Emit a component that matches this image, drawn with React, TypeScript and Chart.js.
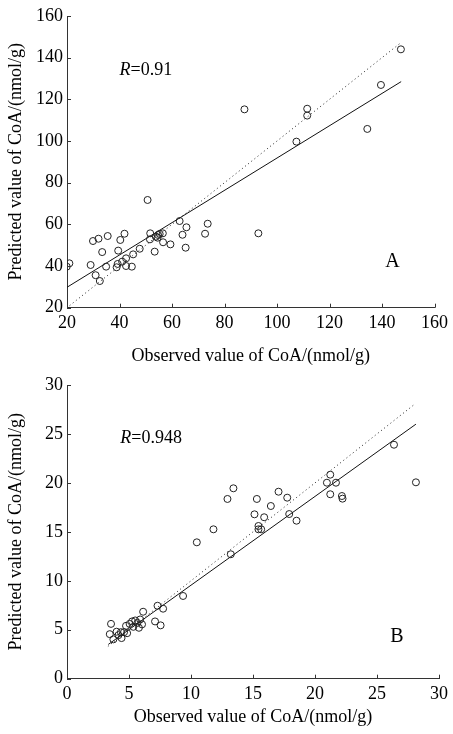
import React, { useEffect, useRef } from "react";
import { Chart, registerables } from "chart.js";

Chart.register(...registerables);

const FONT = "'Liberation Serif', 'Times New Roman', Times, serif";

// ---- Panel A data ----
const obsA = [
  19.9, 20.9, 29.0, 29.9, 32.0, 30.9, 32.5, 33.4, 34.9, 35.5, 39.5, 40.3, 41.9, 38.9, 39.3,
  41.0, 42.5, 42.5, 44.7, 45.2, 47.7, 50.7, 51.7, 51.6, 53.4, 53.9, 54.7, 55.3, 54.5, 56.5,
  56.6, 59.4, 62.9, 64.0, 65.5, 65.2, 72.6, 73.6, 87.6, 92.9, 107.4, 111.5, 111.5, 134.4,
  139.6, 147.2,
];
const predA = [
  39.7, 41.3, 40.5, 52.0, 53.1, 35.6, 32.8, 46.7, 39.7, 54.4, 47.4, 52.5, 55.5, 39.4, 41.0,
  42.1, 43.7, 40.0, 39.7, 45.6, 48.3, 71.7, 55.7, 52.8, 46.9, 54.1, 54.9, 55.4, 53.6, 55.7,
  51.4, 50.4, 61.6, 55.0, 58.6, 48.8, 55.5, 60.3, 115.2, 55.7, 99.7, 115.5, 112.2, 105.8,
  126.9, 144.0,
];
const fitA_x = [20, 147.3];
const fitA_y = [29.8, 128.5];
const idA = [21, 147];
const ticksA = [20, 40, 60, 80, 100, 120, 140, 160];
const rA = "0.91";
const letterA = "A";

// ---- Panel B data ----
const obsB = [
  3.55, 3.45, 3.74, 4.0, 4.15, 4.4, 4.35, 4.6, 4.76, 4.85, 5.05, 5.25, 5.35, 5.5, 5.68, 5.8,
  5.9, 6.05, 6.14, 7.1, 7.3, 7.75, 7.55, 9.36, 10.47, 11.81, 12.94, 13.42, 13.21, 15.31,
  15.12, 15.9, 15.44, 15.44, 15.66, 16.44, 17.06, 17.76, 17.92, 18.51, 21.23, 20.96, 21.69,
  21.23, 22.17, 22.22, 26.37, 28.14,
];
const predB = [
  5.6, 4.55, 4.02, 4.8, 4.45, 4.15, 4.75, 4.75, 5.4, 4.65, 5.6, 5.85, 5.3, 5.95, 5.7, 5.2,
  6.05, 5.55, 6.84, 5.85, 7.45, 7.15, 5.45, 8.45, 13.93, 15.26, 18.36, 19.45, 12.71, 18.36,
  16.79, 16.49, 15.6, 15.26, 15.26, 17.64, 19.1, 18.49, 16.82, 16.14, 20.84, 20.02, 20.02,
  18.84, 18.66, 18.39, 23.9, 20.06,
];
const fitB_x = [3.33, 28.14];
const fitB_y = [3.5, 26.0];
const idB = [3.3, 28];
const ticksB = [0, 5, 10, 15, 20, 25, 30];
const rB = "0.948";
const letterB = "B";

const xTitle = "Observed value of CoA/(nmol/g)";
const yTitle = "Predicted value of CoA/(nmol/g)";

type Panel = {
  obs: number[];
  pred: number[];
  fitX: number[];
  fitY: number[];
  id: number[];
  ticks: number[];
  r: string;
  letter: string;
  rPos: [number, number];
  letterPos: [number, number];
  height: number;
  top: number;
  padTop: number;
  xAxisH: number;
  titlePadBottom: number;
};

const inwardTicks = {
  id: "inwardTicks",
  afterDraw(chart: any) {
    const ctx = chart.ctx;
    const xs = chart.scales.x;
    const ys = chart.scales.y;
    const ca = chart.chartArea;
    ctx.save();
    ctx.strokeStyle = "#333";
    ctx.lineWidth = 1;
    ctx.beginPath();
    xs.ticks.forEach((t: any) => {
      const px = Math.round(xs.getPixelForValue(t.value)) + 0.5;
      ctx.moveTo(px, ca.bottom);
      ctx.lineTo(px, ca.bottom - 4);
    });
    ys.ticks.forEach((t: any) => {
      const py = Math.round(ys.getPixelForValue(t.value)) + 0.5;
      ctx.moveTo(ca.left, py);
      ctx.lineTo(ca.left + 4, py);
    });
    ctx.stroke();
    ctx.restore();
  },
};

const labelsPlugin = {
  id: "panelLabels",
  afterDraw(chart: any) {
    const p: Panel = chart.options.plugins.panelLabels.panel;
    const ctx = chart.ctx;
    const xs = chart.scales.x;
    const ys = chart.scales.y;
    ctx.save();
    ctx.fillStyle = "#000";
    ctx.textBaseline = "middle";
    ctx.textAlign = "left";
    const rx = xs.getPixelForValue(p.rPos[0]);
    const ry = ys.getPixelForValue(p.rPos[1]);
    ctx.font = `italic 18px ${FONT}`;
    ctx.fillText("R", rx, ry);
    const w = ctx.measureText("R").width;
    ctx.font = `18px ${FONT}`;
    ctx.fillText("=" + p.r, rx + w, ry);
    ctx.font = `20px ${FONT}`;
    ctx.textAlign = "center";
    ctx.fillText(p.letter, xs.getPixelForValue(p.letterPos[0]), ys.getPixelForValue(p.letterPos[1]));
    ctx.restore();
  },
};

function ScatterPanel({ panel }: { panel: Panel }) {
  const ref = useRef<HTMLCanvasElement | null>(null);
  useEffect(() => {
    if (!ref.current) return;
    const p = panel;
    const points = p.obs.map((v, i) => ({ x: v, y: p.pred[i] }));
    const fit = p.fitX.map((v, i) => ({ x: v, y: p.fitY[i] }));
    const ident = p.id.map((v) => ({ x: v, y: v }));
    const tickFont = { family: FONT, size: 18 };
    const chart = new Chart(ref.current, {
      type: "scatter",
      data: {
        datasets: [
          {
            data: points,
            pointRadius: 3.5,
            pointBorderWidth: 1,
            pointBorderColor: "#222",
            pointBackgroundColor: "rgba(255,255,255,0)",
            showLine: false,
          },
          {
            data: fit,
            showLine: true,
            borderColor: "#111",
            borderWidth: 1,
            pointRadius: 0,
          },
          {
            data: ident,
            showLine: true,
            borderColor: "#222",
            borderWidth: 1,
            borderDash: [1, 3],
            pointRadius: 0,
          },
        ] as any,
      },
      options: {
        animation: false,
        responsive: false,
        devicePixelRatio: 1,
        layout: { padding: { top: p.padTop, right: 14, left: 0, bottom: 0 } },
        plugins: {
          legend: { display: false },
          tooltip: { enabled: false },
          panelLabels: { panel: p },
        } as any,
        scales: {
          x: {
            type: "linear",
            min: p.ticks[0],
            max: p.ticks[p.ticks.length - 1],
            afterBuildTicks: (s: any) => {
              s.ticks = p.ticks.map((v) => ({ value: v }));
            },
            afterFit: (s: any) => {
              s.height = p.xAxisH;
            },
            grid: { display: false, drawTicks: false },
            border: { display: true, color: "#333", width: 1 },
            ticks: { color: "#000", font: tickFont, padding: 5, maxRotation: 0, autoSkip: false },
            title: {
              display: true,
              text: xTitle,
              color: "#000",
              font: tickFont,
              padding: { top: 0, bottom: p.titlePadBottom },
            },
          },
          y: {
            type: "linear",
            min: p.ticks[0],
            max: p.ticks[p.ticks.length - 1],
            afterBuildTicks: (s: any) => {
              s.ticks = p.ticks.map((v) => ({ value: v }));
            },
            afterFit: (s: any) => {
              s.width = 67;
            },
            grid: { display: false, drawTicks: false },
            border: { display: true, color: "#333", width: 1 },
            ticks: { color: "#000", font: tickFont, padding: 4, autoSkip: false },
            title: {
              display: true,
              text: yTitle,
              color: "#000",
              font: tickFont,
              padding: { top: 5, bottom: 0 },
            },
          },
        },
      } as any,
      plugins: [inwardTicks, labelsPlugin],
    });
    return () => chart.destroy();
  }, [panel]);
  return (
    <canvas
      ref={ref}
      width={453}
      height={panel.height}
      style={{ position: "absolute", left: 0, top: panel.top, width: 453, height: panel.height }}
    />
  );
}

const panelA: Panel = {
  obs: obsA,
  pred: predA,
  fitX: fitA_x,
  fitY: fitA_y,
  id: idA,
  ticks: ticksA,
  r: rA,
  letter: letterA,
  rPos: [40, 134],
  letterPos: [144, 42],
  height: 367,
  top: 0,
  padTop: 16,
  xAxisH: 59.3,
  titlePadBottom: 0,
};

const panelB: Panel = {
  obs: obsB,
  pred: predB,
  fitX: fitB_x,
  fitY: fitB_y,
  id: idB,
  ticks: ticksB,
  r: rB,
  letter: letterB,
  rPos: [4.3, 24.6],
  letterPos: [26.6, 4.26],
  height: 361,
  top: 367,
  padTop: 18,
  xAxisH: 49.3,
  titlePadBottom: 0,
};

export default function App() {
  return (
    <div style={{ position: "fixed", left: 0, top: 0, width: 453, height: 734, background: "#fff" }}>
      <ScatterPanel panel={panelA} />
      <ScatterPanel panel={panelB} />
    </div>
  );
}
